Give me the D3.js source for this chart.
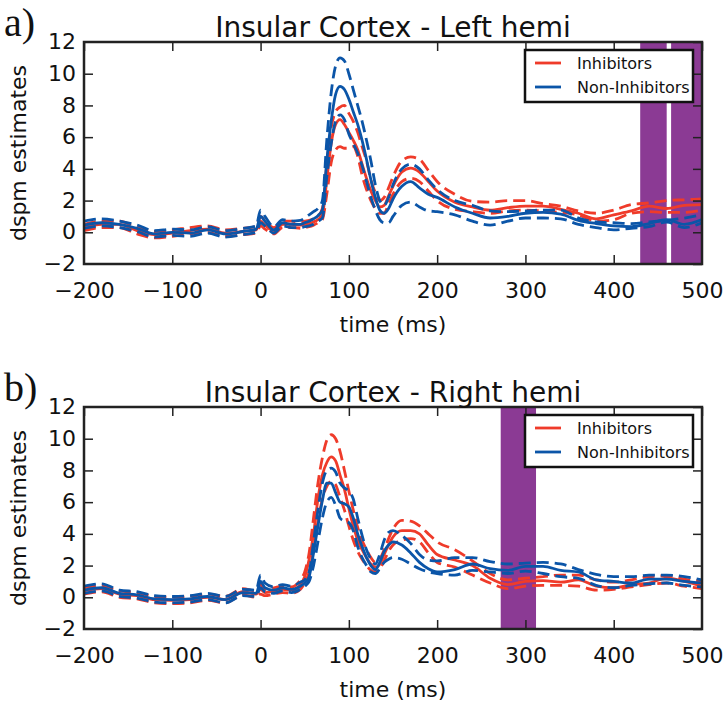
<!DOCTYPE html>
<html lang="en">
<head>
<meta charset="UTF-8">
<title>Insular Cortex</title>
<script src="https://d3js.org/d3.v7.min.js"></script>
<style>
    body { margin: 0; background: #fff; }
    svg { display: block; font-family: "DejaVu Sans", sans-serif; }
    .tick text { font-size: 22px; fill: #111; }
</style>
</head>
<body>
<div id="chart"></div>
<script>
// time points (ms)
const times = [-200,-180,-160,-140,-120,-100,-80,-60,-40,-20,-5,0,5,15,25,35,45,50,55,60,65,70,75,80,85,90,95,100,105,110,115,120,125,130,135,140,145,150,160,170,180,190,200,220,240,260,280,300,320,340,360,380,400,420,440,460,480,500];

// Left hemi
const leftInh      = [0.3,0.5,0.5,0.1,-0.15,-0.05,0.1,0.2,-0.05,0.05,0.15,0.7,0.45,0.1,0.5,0.5,0.45,0.5,0.55,0.65,0.8,1.1,3.3,5.6,6.8,7.1,6.8,6.3,5.8,5.2,4.3,3.4,2.6,2.0,1.6,1.7,2.3,2.9,3.8,4.05,3.8,3.2,2.6,1.9,1.6,1.4,1.55,1.65,1.65,1.45,1.2,0.85,1.1,1.35,1.65,1.5,1.7,1.75];
const leftInhHi    = [0.5,0.7,0.7,0.3,0.05,0.15,0.3,0.4,0.15,0.25,0.35,1.0,0.7,0.3,0.7,0.7,0.65,0.7,0.75,0.85,1.0,1.5,4.3,6.6,7.6,7.9,8.0,7.5,7.0,6.3,5.4,4.5,3.3,2.5,2.0,2.2,2.8,3.5,4.5,4.75,4.6,3.9,3.2,2.4,1.95,1.9,2.0,2.0,1.8,1.65,1.35,1.2,1.4,1.75,1.85,2.0,2.05,2.1];
const leftInhLo    = [0.1,0.3,0.3,-0.1,-0.35,-0.25,-0.1,0.0,-0.25,-0.15,-0.05,0.4,0.2,-0.1,0.3,0.3,0.25,0.3,0.35,0.45,0.6,0.8,2.4,4.4,5.2,5.4,5.3,5.3,5.4,4.8,3.6,2.7,2.0,1.5,1.2,1.2,1.8,2.4,3.2,3.4,3.2,2.6,2.0,1.45,1.3,1.2,1.35,1.4,1.35,1.25,1.1,0.7,0.8,1.2,1.3,1.25,1.25,1.4];
const leftNon      = [0.45,0.6,0.5,0.25,-0.1,0.0,-0.05,0.15,-0.1,0.05,0.2,1.0,0.7,0.15,0.6,0.5,0.5,0.6,0.7,0.85,1.05,1.4,4.5,7.0,8.7,9.2,9.0,8.4,7.6,6.8,5.8,4.6,3.3,2.2,1.4,1.2,1.5,2.1,2.9,3.2,2.8,2.4,2.2,1.6,1.2,0.9,1.0,1.2,1.25,1.15,0.75,0.55,0.4,0.35,0.55,0.8,0.5,0.8];
const leftNonHi    = [0.7,0.85,0.7,0.45,0.1,0.2,0.15,0.35,0.1,0.25,0.4,1.4,1.0,0.35,0.8,0.7,0.75,0.9,1.1,1.3,1.5,2.0,5.8,8.8,10.5,11.0,10.8,10.0,9.0,8.0,7.0,5.8,4.5,3.0,2.0,1.7,2.2,3.0,4.0,4.3,4.0,3.3,2.7,2.0,1.7,1.35,1.3,1.35,1.4,1.4,0.9,0.65,0.6,0.55,0.65,0.75,0.9,1.1];
const leftNonLo    = [0.25,0.4,0.3,0.05,-0.3,-0.2,-0.25,-0.05,-0.3,-0.15,0.0,0.6,0.4,-0.05,0.4,0.3,0.3,0.35,0.4,0.5,0.7,0.9,3.5,5.6,7.0,7.4,7.1,6.2,5.6,5.0,4.2,3.2,2.2,1.4,0.8,0.6,0.6,1.0,1.7,1.9,1.6,1.35,1.3,1.1,0.7,0.45,0.7,0.9,0.9,0.85,0.5,0.3,0.15,0.25,0.35,0.65,0.3,0.6];

// Right hemi
const rightInh     = [0.4,0.55,0.2,0.1,-0.15,-0.2,-0.15,0.0,-0.15,0.35,0.2,0.5,0.3,0.4,0.5,0.45,0.8,1.3,2.4,4.0,6.2,7.7,8.5,8.85,8.6,7.7,6.8,5.6,4.5,3.6,3.0,2.5,2.1,1.9,2.1,2.7,3.3,3.8,4.2,4.2,4.0,3.3,2.7,2.35,2.0,1.2,0.8,1.0,1.05,0.95,1.1,0.7,0.6,0.8,0.9,1.2,1.0,0.7];
const rightInhHi   = [0.6,0.75,0.4,0.3,0.05,0.0,0.05,0.2,0.05,0.55,0.4,0.8,0.5,0.6,0.7,0.65,1.1,1.6,2.8,5.0,7.2,8.8,9.9,10.25,10.0,9.2,8.0,6.7,5.5,4.4,3.6,3.0,2.5,2.2,2.4,3.0,3.7,4.3,4.85,4.8,4.5,4.0,3.5,3.0,2.3,1.5,1.1,1.2,1.3,1.4,1.4,1.1,0.95,1.1,1.3,1.35,1.15,1.0];
const rightInhLo   = [0.2,0.35,0.0,-0.1,-0.35,-0.4,-0.35,-0.2,-0.35,0.15,0.0,0.2,0.1,0.2,0.3,0.25,0.5,0.9,1.6,3.0,4.8,6.2,7.0,7.3,7.1,6.3,5.5,4.5,3.6,2.9,2.4,2.0,1.7,1.6,1.8,2.3,2.9,3.3,3.6,3.7,3.5,2.8,2.2,1.9,1.4,0.9,0.55,0.7,0.75,0.75,0.7,0.45,0.5,0.65,0.8,0.9,0.7,0.55];
const rightNon     = [0.45,0.6,0.25,0.15,-0.1,-0.15,-0.1,0.05,-0.15,0.3,0.25,1.0,0.6,0.45,0.6,0.5,0.7,0.9,1.3,2.8,4.5,6.1,7.2,7.2,6.6,6.0,5.9,5.7,5.0,4.0,3.2,2.5,2.0,1.75,2.2,2.9,3.3,3.5,3.3,2.8,2.2,1.8,1.6,1.75,2.1,1.8,1.7,1.95,1.95,1.7,1.6,1.1,1.0,0.9,1.15,1.15,1.0,0.9];
const rightNonHi   = [0.7,0.85,0.45,0.35,0.1,0.05,0.1,0.25,0.05,0.5,0.45,1.4,0.9,0.65,0.8,0.7,0.95,1.1,1.6,3.5,5.5,7.2,8.0,8.15,7.9,7.2,6.9,6.7,6.2,5.0,3.9,3.0,2.4,2.1,2.7,3.6,4.1,4.2,3.9,3.4,2.7,2.35,2.3,2.5,2.5,2.25,2.1,2.15,2.2,2.1,1.75,1.45,1.3,1.3,1.4,1.4,1.3,1.1];
const rightNonLo   = [0.25,0.4,0.05,-0.05,-0.3,-0.35,-0.3,-0.15,-0.35,0.1,0.05,0.6,0.35,0.25,0.4,0.3,0.5,0.7,1.0,2.0,3.5,5.0,6.0,6.3,5.8,5.0,4.8,4.7,4.2,3.2,2.5,2.0,1.6,1.5,1.8,2.2,2.4,2.5,2.4,2.1,1.8,1.6,1.5,1.4,1.7,1.6,1.5,1.65,1.5,1.3,1.2,0.75,0.6,0.75,0.85,0.9,0.75,0.65];

// significant windows (ms)
const leftSpans  = [[430, 460], [465, 500]];
const rightSpans = [[272, 312]];

const xTicks = [-200, -100, 0, 100, 200, 300, 400, 500];
const yTicks = [-2, 0, 2, 4, 6, 8, 10, 12];
const legendLabels = ["Inhibitors", "Non-Inhibitors"];

const red = "#ef3b2a", blue = "#0b55a8", purple = "#8b3a94";

const width = 727, height = 702;
const svg = d3.select("#chart").append("svg")
    .attr("width", width)
    .attr("height", height);

const x = d3.scaleLinear().domain([-200, 500]).range([84, 702]);

function drawPanel(top, letter, title, inh, inhHi, inhLo, non, nonHi, nonLo, spans) {
    const y = d3.scaleLinear().domain([-2, 12]).range([top + 222, top]);
    const g = svg.append("g");

    // clip so lines stay in the axes box
    const clipId = "clip" + letter;
    svg.append("clipPath").attr("id", clipId)
        .append("rect").attr("x", 84).attr("y", top).attr("width", 618).attr("height", 222);

    const plot = g.append("g").attr("clip-path", `url(#${clipId})`);

    plot.selectAll("rect.span").data(spans).enter().append("rect")
        .attr("x", d => x(d[0]))
        .attr("width", d => x(d[1]) - x(d[0]))
        .attr("y", top).attr("height", 222)
        .attr("fill", purple);

    const line = d3.line()
        .x((d, i) => x(times[i]))
        .y(d => y(d))
        .curve(d3.curveMonotoneX);

    const series = [
        { v: inhHi, c: red, dash: true },
        { v: inhLo, c: red, dash: true },
        { v: inh, c: red, dash: false },
        { v: nonHi, c: blue, dash: true },
        { v: nonLo, c: blue, dash: true },
        { v: non, c: blue, dash: false }
    ];
    series.forEach(s => {
        plot.append("path")
            .attr("d", line(s.v))
            .attr("fill", "none")
            .attr("stroke", s.c)
            .attr("stroke-width", 2.8)
            .attr("stroke-dasharray", s.dash ? "12,6" : null);
    });

    // axes, ticks inward on all sides
    const bottom = g.append("g").attr("transform", `translate(0,${top + 222})`)
        .call(d3.axisBottom(x).tickValues(xTicks).tickSizeInner(-9).tickSizeOuter(0).tickPadding(18));
    const topAx = g.append("g").attr("transform", `translate(0,${top})`)
        .call(d3.axisTop(x).tickValues(xTicks).tickSizeInner(-9).tickSizeOuter(0).tickFormat(""));
    const left = g.append("g").attr("transform", "translate(84,0)")
        .call(d3.axisLeft(y).tickValues(yTicks).tickSizeInner(-9).tickSizeOuter(0).tickPadding(8));
    const right = g.append("g").attr("transform", "translate(702,0)")
        .call(d3.axisRight(y).tickValues(yTicks).tickSizeInner(-9).tickSizeOuter(0).tickFormat(""));
    [bottom, topAx, left, right].forEach(a => {
        a.selectAll(".domain").remove();
        a.selectAll(".tick line").attr("stroke", "#222").attr("stroke-width", 1.5);
        a.selectAll(".tick text").attr("font-family", "DejaVu Sans").attr("font-size", 22);
    });
    bottom.selectAll(".tick").filter(d => d === -200 || d === 500).select("line").remove();
    left.selectAll(".tick").filter(d => d === -2 || d === 12).select("line").remove();
    left.selectAll(".tick text").attr("dy", "0.3em");

    g.append("rect")
        .attr("x", 84).attr("y", top).attr("width", 618).attr("height", 222)
        .attr("fill", "none").attr("stroke", "#222").attr("stroke-width", 2.5);

    // labels
    g.append("text").attr("x", 393).attr("y", top - 5)
        .attr("text-anchor", "middle").attr("font-size", 28).attr("fill", "#111")
        .text(title);
    g.append("text").attr("x", 4).attr("y", top - 6)
        .attr("font-family", "Liberation Serif, serif").attr("font-size", 40).attr("fill", "#111")
        .text(letter + ")");
    g.append("text").attr("x", 393).attr("y", top + 290)
        .attr("text-anchor", "middle").attr("font-size", 22).attr("fill", "#111")
        .text("time (ms)");
    g.append("text")
        .attr("transform", `translate(26,${top + 111}) rotate(-90)`)
        .attr("text-anchor", "middle").attr("font-size", 22).attr("fill", "#111")
        .text("dspm estimates");

    // legend
    const lg = g.append("g").attr("transform", `translate(525,${top + 8})`);
    lg.append("rect").attr("width", 168).attr("height", 52)
        .attr("fill", "#fff").attr("stroke", "#111").attr("stroke-width", 2.5);
    legendLabels.forEach((lab, i) => {
        const yy = 13 + i * 24;
        lg.append("line").attr("x1", 10).attr("x2", 36).attr("y1", yy).attr("y2", yy)
            .attr("stroke", i === 0 ? red : blue).attr("stroke-width", 2.8);
        lg.append("text").attr("x", 52).attr("y", yy + 6)
            .attr("font-size", 16).attr("fill", "#111").text(lab);
    });
}

drawPanel(42, "a", "Insular Cortex - Left hemi", leftInh, leftInhHi, leftInhLo, leftNon, leftNonHi, leftNonLo, leftSpans);
drawPanel(407, "b", "Insular Cortex - Right hemi", rightInh, rightInhHi, rightInhLo, rightNon, rightNonHi, rightNonLo, rightSpans);
</script>
</body>
</html>
